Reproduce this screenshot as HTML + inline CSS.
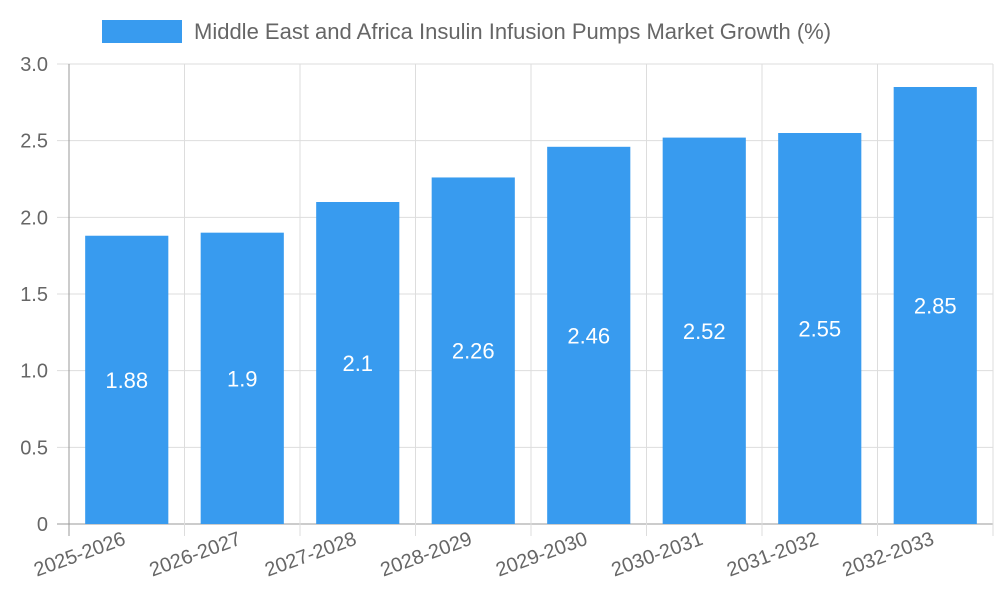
<!DOCTYPE html>
<html><head><meta charset="utf-8"><style>
body{margin:0;background:#fff;}
svg{display:block;font-family:"Liberation Sans",sans-serif;}
</style></head><body>
<svg id="chart" width="1000" height="600">
<g id="legend">
<rect x="102" y="20" width="80" height="23" fill="#389bef"></rect>
<text x="194" y="39" font-size="22" fill="#666">Middle East and Africa Insulin Infusion Pumps Market Growth (%)</text>
</g>
<g id="grid"></g>
<g id="bars"></g>
<g id="axes"></g>
</svg>
<script>
const categories=["2025-2026","2026-2027","2027-2028","2028-2029","2029-2030","2030-2031","2031-2032","2032-2033"];
const values=[1.88,1.9,2.1,2.26,2.46,2.52,2.55,2.85];
const yTicks=[0,0.5,1.0,1.5,2.0,2.5,3.0];
const yTickLabels=["0","0.5","1.0","1.5","2.0","2.5","3.0"];
const NS="http://www.w3.org/2000/svg";
const L=69,R=993,T=64,B=524,yMax=3;
const step=(R-L)/categories.length;
const y=v=>B-(v/yMax)*(B-T);
const xc=i=>L+step*(i+0.5);
function mk(tag,attrs,parent){const e=document.createElementNS(NS,tag);for(const k in attrs)e.setAttribute(k,attrs[k]);parent.appendChild(e);return e;}
const grid=document.getElementById('grid'),bars=document.getElementById('bars'),axes=document.getElementById('axes');
yTicks.forEach((t,i)=>{
  const ln=mk('line',{x1:L-12,x2:R,y1:y(t),y2:y(t),stroke:i==0?'#999':'#ddd','stroke-width':1},grid);
  
  
  const tx=mk('text',{x:L-21,y:y(t)+7,'text-anchor':'end','font-size':20,fill:'#666'},axes);
  tx.textContent=yTickLabels[i];
  
  
});
for(let i=0;i<=categories.length;i++){
  const x=L+step*i;
  const ln=mk('line',{x1:x,x2:x,y1:T,y2:B+12,stroke:i==0?'#999':'#ddd','stroke-width':1},grid);
  
  
}
const bw=step*0.72;
categories.forEach((c,i)=>{
  const r=mk('rect',{x:xc(i)-bw/2,y:y(values[i]),width:bw,height:B-y(values[i]),fill:'#389bef'},bars);
  
  
  const v=mk('text',{x:xc(i),y:(y(values[i])+B)/2+8,'text-anchor':'middle','font-size':22,fill:'#fff'},bars);
  v.textContent=String(values[i]);
  
  
  const t=mk('text',{x:xc(i),y:B+20,'text-anchor':'end','font-size':20,fill:'#666',transform:'rotate(-20 '+xc(i)+' '+(B+20)+')'},axes);
  t.textContent=c;
  
  
});
</script>
</body></html>
